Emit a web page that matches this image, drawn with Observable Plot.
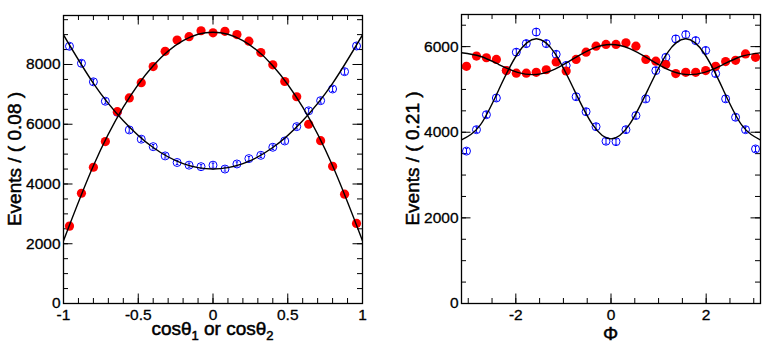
<!DOCTYPE html>
<html><head><meta charset="utf-8">
<script src="https://cdn.jsdelivr.net/npm/d3@7"></script>
<script src="https://cdn.jsdelivr.net/npm/@observablehq/plot@0.6"></script>
<style>
body{margin:0;background:#fff;}
#wrap{position:relative;width:779px;height:352px;overflow:hidden;background:#fff;}
#wrap svg{position:absolute;top:0;}
</style></head><body><div id="wrap"></div>
<script>
// ---- left panel: cos(theta) ----
const cosCenters = [-0.96,-0.88,-0.80,-0.72,-0.64,-0.56,-0.48,-0.40,-0.32,-0.24,-0.16,-0.08,0,0.08,0.16,0.24,0.32,0.40,0.48,0.56,0.64,0.72,0.80,0.88,0.96];
const cosRed  = [2590,3690,4560,5420,6420,6880,7390,7930,8440,8820,8930,9130,9060,9110,9000,8780,8400,7990,7430,6920,6000,5450,4590,3660,2680];
const cosBlue = [8610,8040,7420,6770,6400,5810,5500,5250,4940,4720,4630,4580,4630,4500,4670,4850,4960,5230,5440,5920,6450,6790,7180,7760,8620];
const cosFitX    = [-1,-0.8,-0.6,-0.4,-0.2,0,0.2,0.4,0.6,0.8,1];
const cosFitRed  = [2100,4610,6570,7960,8800,9080,8800,7960,6570,4610,2100];
const cosFitBlue = [8990,7370,6120,5220,4680,4500,4680,5220,6120,7370,8990];
const cosXTicks = [-1,-0.5,0,0.5,1];
const cosXTickLabels = ["-1","-0.5","0","0.5","1"];
const cosYTicks = [0,2000,4000,6000,8000];
const cosYTickLabels = ["0","2000","4000","6000","8000"];

// ---- right panel: Phi ----
const phiCenters = [-3.037,-2.827,-2.618,-2.409,-2.199,-1.990,-1.780,-1.571,-1.361,-1.152,-0.942,-0.733,-0.524,-0.314,-0.105,0.105,0.314,0.524,0.733,0.942,1.152,1.361,1.571,1.780,1.990,2.199,2.409,2.618,2.827,3.037];
const phiRed  = [5540,5780,5740,5700,5440,5380,5380,5400,5460,5640,5430,5700,5870,6010,6050,6050,6090,6010,5700,5660,5580,5370,5400,5400,5440,5540,5650,5680,5830,5750];
const phiBlue = [3560,4060,4410,4800,5440,5870,6070,6340,6070,5820,5560,4830,4480,4130,3790,3780,4060,4390,4780,5440,5750,6180,6280,6140,5910,5370,4780,4350,4060,3610];
const phiFitX    = [-3.1416,-2.7489,-2.3562,-1.9635,-1.5708,-1.1781,-0.7854,-0.3927,0,0.3927,0.7854,1.1781,1.5708,1.9635,2.3562,2.7489,3.1416];
const phiFitRed  = [5856,5774,5582,5400,5349,5475,5720,5955,6051,5955,5720,5475,5349,5400,5582,5774,5856];
const phiFitBlue = [3820,4166,4999,5833,6182,5842,5015,4187,3844,4187,5015,5842,6182,5833,4999,4166,3820];
const phiXTicks = [-2,0,2];
const phiXTickLabels = ["-2","0","2"];
const phiYTicks = [0,2000,4000,6000];
const phiYTickLabels = ["0","2000","4000","6000"];

const FONT = "'Liberation Sans', Arial, Helvetica, sans-serif";
const hbar = {draw(ctx, size){const r=Math.sqrt(size/Math.PI);ctx.moveTo(-r,0);ctx.lineTo(r,0);}};

function panel(cfg){
  const W=cfg.width,H=352;
  const fw=W-cfg.ml-cfg.mr, fh=H-cfg.mt-cfg.mb;
  const red=cfg.xs.map((x,i)=>({x,y:cfg.red[i]}));
  const blue=cfg.xs.map((x,i)=>({x,y:cfg.blue[i]}));
  const fr=cfg.fitX.map((x,i)=>({x,y:cfg.fitRed[i]}));
  const fb=cfg.fitX.map((x,i)=>({x,y:cfg.fitBlue[i]}));
  const tk=(vals,len,axis,side)=>{
    if(axis==="x") return Plot.tickX(vals,{x:d=>d,stroke:"black",strokeWidth:1,[side==="bottom"?"insetTop":"insetBottom"]:fh-len});
    return Plot.tickY(vals,{y:d=>d,stroke:"black",strokeWidth:1,[side==="left"?"insetRight":"insetLeft"]:fw-len});
  };
  const svg=Plot.plot({
    width:W,height:H,marginLeft:cfg.ml,marginRight:cfg.mr,marginTop:cfg.mt,marginBottom:cfg.mb,
    style:{fontFamily:FONT,fontSize:"15.5px",background:"transparent",overflow:"visible",color:"black"},
    x:{domain:cfg.xDomain,axis:null},
    y:{domain:cfg.yDomain,axis:null},
    marks:[
      tk(cfg.xMinor,5,"x","bottom"),tk(cfg.xMinor,5,"x","top"),
      tk(cfg.xTicks,9.5,"x","bottom"),tk(cfg.xTicks,9.5,"x","top"),
      tk(cfg.yMinor,5,"y","left"),tk(cfg.yMinor,5,"y","right"),
      tk(cfg.yTicks,9.5,"y","left"),tk(cfg.yTicks,9.5,"y","right"),
      Plot.ruleX(blue,{x:"x",y1:d=>d.y-Math.sqrt(d.y),y2:d=>d.y+Math.sqrt(d.y),stroke:"#0000ff",strokeWidth:1}),
      Plot.dot(blue,{x:"x",y:d=>d.y-Math.sqrt(d.y),symbol:hbar,r:1.3,stroke:"#0000ff",strokeWidth:1,fill:"none"}),
      Plot.dot(blue,{x:"x",y:d=>d.y+Math.sqrt(d.y),symbol:hbar,r:1.3,stroke:"#0000ff",strokeWidth:1,fill:"none"}),
      Plot.dot(blue,{x:"x",y:"y",r:4,stroke:"#0000ff",strokeWidth:1,fill:"none"}),
      Plot.dot(red,{x:"x",y:"y",r:4.6,fill:"#ff0000",stroke:"none"}),
      Plot.line(fr,{x:"x",y:"y",curve:"natural",stroke:"black",strokeWidth:1.4,clip:true}),
      Plot.line(fb,{x:"x",y:"y",curve:"natural",stroke:"black",strokeWidth:1.4,clip:true}),
      Plot.frame({stroke:"black",strokeWidth:1.3}),
      Plot.text(cfg.xTicks,{x:d=>d,text:(d,i)=>cfg.xTickLabels[i],frameAnchor:"bottom",lineAnchor:"top",dy:5.5,fill:"black",stroke:"black",strokeWidth:0.3}),
      Plot.text(cfg.yTicks,{y:d=>d,text:(d,i)=>cfg.yTickLabels[i],frameAnchor:"left",textAnchor:"end",lineAnchor:"middle",dx:-3,fill:"black",stroke:"black",strokeWidth:0.3})
    ]
  });
  svg.style.left=cfg.left+"px";
  const s=d3.select(svg);
  // y title
  s.append("text").attr("transform",`translate(${cfg.yTitleX},${cfg.mt+fh/2}) rotate(-90)`)
    .attr("text-anchor","middle").attr("font-size",19).attr("font-family",FONT).attr("fill","black")
    .attr("stroke","black").attr("stroke-width",0.5)
    .text(cfg.yTitle);
  // x title
  const t=s.append("text").attr("x",cfg.ml+fw/2).attr("y",cfg.xTitleY).attr("text-anchor","middle")
    .attr("font-size",19).attr("font-family",FONT).attr("fill","black")
    .attr("stroke","black").attr("stroke-width",0.5);
  cfg.xTitle(t);
  document.getElementById("wrap").appendChild(svg);
}

panel({left:0,width:390,ml:63,mr:28,mt:15,mb:49,
  xs:cosCenters,red:cosRed,blue:cosBlue,fitX:cosFitX,fitRed:cosFitRed,fitBlue:cosFitBlue,
  xDomain:[-1,1],yDomain:[0,9640],
  xTicks:cosXTicks,xTickLabels:cosXTickLabels,xMinor:d3.range(-10,11).map(i=>i/10),
  yTicks:cosYTicks,yTickLabels:cosYTickLabels,yMinor:d3.range(0,20).map(i=>i*500),
  yTitle:"Events / ( 0.08 )",yTitleX:20.5,xTitleY:335,
  xTitle:t=>{
    t.append("tspan").text("cosθ");
    t.append("tspan").attr("font-size",13).attr("dy",5).text("1");
    t.append("tspan").attr("dy",-5).text(" or cosθ");
    t.append("tspan").attr("font-size",13).attr("dy",5).text("2");
  }});

panel({left:390,width:389,ml:71,mr:19,mt:14,mb:49,
  xs:phiCenters,red:phiRed,blue:phiBlue,fitX:phiFitX,fitRed:phiFitRed,fitBlue:phiFitBlue,
  xDomain:[-Math.PI,Math.PI],yDomain:[0,6750],
  xTicks:phiXTicks,xTickLabels:phiXTickLabels,xMinor:d3.range(-6,7).map(i=>i/2),
  yTicks:phiYTicks,yTickLabels:phiYTickLabels,yMinor:d3.range(0,14).map(i=>i*500),
  yTitle:"Events / ( 0.21 )",yTitleX:28.5,xTitleY:340,
  xTitle:t=>{t.text("Φ");}});
</script></body></html>
